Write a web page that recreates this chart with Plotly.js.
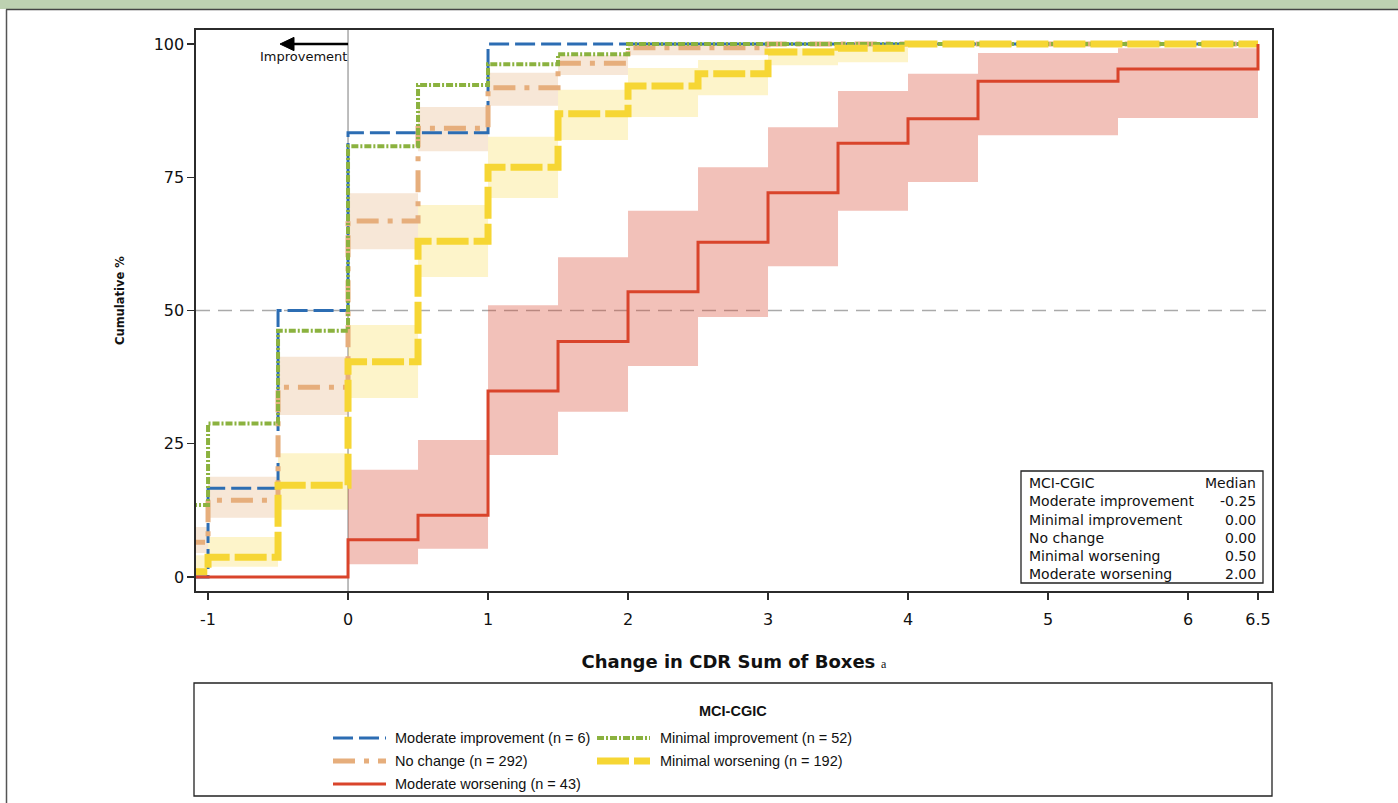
<!DOCTYPE html>
<html>
<head>
<meta charset="utf-8">
<script src="https://cdn.plot.ly/plotly-3.0.1.min.js"></script>
<style>
  html, body { margin: 0; padding: 0; background: #ffffff; }
  #chart { width: 1398px; height: 803px; }
</style>
</head>
<body>
<div id="chart"></div>
<script>
// ---------------- DATA ----------------
// Step functions (cumulative %), value holds from x[i] until x[i+1]
const modImpX = [-1.5, -1, -0.5, 0, 1, 6.5];
const modImpY = [0, 16.67, 50, 83.33, 100, 100];

const minImpX = [-1.5, -1, -0.5, 0, 0.5, 1, 1.5, 2, 6.5];
const minImpY = [13.5, 28.8, 46.2, 80.8, 92.3, 96.2, 98.1, 100, 100];

const noChgX = [-1.5, -1, -0.5, 0, 0.5, 1, 1.5, 2, 3, 6.5];
const noChgY = [6.5, 14.4, 35.6, 66.8, 84.2, 91.8, 96.4, 99.3, 100, 100];
const noChgBandX = [-1.5, -1, -0.5, 0, 0.5, 1, 1.5, 2, 3];
const noChgLow = [4.5, 11.1, 30.4, 61.5, 79.9, 88.4, 94.2, 97.9, 97.9];
const noChgHigh = [9.4, 18.8, 41.3, 72.0, 88.2, 94.6, 97.9, 100, 100];

const minWorX = [-1.5, -1, -0.5, 0, 0.5, 1, 1.5, 2, 2.5, 3, 3.5, 4, 6.5];
const minWorY = [1.0, 3.7, 17.2, 40.4, 63.0, 76.9, 86.9, 92.1, 94.4, 98.5, 99.2, 100, 100];
const minWorBandX = [-1.5, -1, -0.5, 0, 0.5, 1, 1.5, 2, 2.5, 3, 3.5, 4];
const minWorLow = [0.1, 1.9, 12.6, 33.6, 56.3, 71.1, 82.0, 86.3, 90.4, 96.0, 96.6, 96.6];
const minWorHigh = [4.1, 7.5, 23.2, 47.3, 69.8, 82.6, 91.4, 95.5, 97.0, 99.2, 99.8, 99.8];

const modWorX = [-1.5, 0, 0.5, 1, 1.5, 2, 2.5, 3, 3.5, 4, 4.5, 5.5, 6.5];
const modWorY = [0, 7.0, 11.6, 34.9, 44.2, 53.5, 62.8, 72.1, 81.4, 86.0, 93.0, 95.3, 100];
const modWorBandX = [0, 0.5, 1, 1.5, 2, 2.5, 3, 3.5, 4, 4.5, 5.5, 6.5];
const modWorLow = [2.4, 5.3, 22.9, 31.0, 39.6, 48.8, 58.3, 68.7, 74.1, 82.9, 86.1, 86.1];
const modWorHigh = [20.1, 25.7, 51.0, 60.0, 68.7, 76.9, 84.4, 91.2, 94.4, 98.3, 99.2, 99.2];

// Labels
const seriesNames = ['Moderate improvement (n = 6)', 'Minimal improvement (n = 52)', 'No change (n = 292)',
                     'Minimal worsening (n = 192)', 'Moderate worsening (n = 43)'];
const xTickVals = [-1, 0, 1, 2, 3, 4, 5, 6, 6.5];
const xTickText = ['-1', '0', '1', '2', '3', '4', '5', '6', '6.5'];
const yTickVals = [0, 25, 50, 75, 100];
const yTickText = ['0', '25', '50', '75', '100'];
const tableHeader = ['MCI-CGIC', 'Median'];
const tableGroups = ['Moderate improvement', 'Minimal improvement', 'No change', 'Minimal worsening', 'Moderate worsening'];
const tableMedians = ['-0.25', '0.00', '0.00', '0.50', '2.00'];
const legendTitle = 'MCI-CGIC';
const xTitle = 'Change in CDR Sum of Boxes';
const xTitleNote = 'a';
const yTitle = 'Cumulative %';
const arrowLabel = 'Improvement';
const arrowFrom = 0, arrowTo = -0.486, arrowLevel = 100;

// ---------------- STYLES ----------------
const C = {
  blue: '#2C6DB3', green: '#8BB23F', orange: '#E6AE7C', yellow: '#F6D634', red: '#D9442B'
};
const lineStyles = {
  modImp: { color: C.blue, width: 3, dash: '20px,6px' },
  minImp: { color: C.green, width: 4, dash: '7px,2px,2px,2px' },
  noChg:  { color: C.orange, width: 5, dash: '22px,9px,5px,9px' },
  minWor: { color: C.yellow, width: 7, dash: '32px,5px' },
  modWor: { color: C.red, width: 3, dash: 'solid' }
};

// plot geometry in pixels
const W = 1398, H = 803;
const M = { l: 196, r: 126, t: 30, b: 212 };
const PW = W - M.l - M.r, PH = H - M.t - M.b;
const px = v => (v - M.l) / PW;
const py = v => (H - M.b - v) / PH;

function band(x, lo, hi, fill) {
  return [
    { x: x, y: lo, mode: 'lines', line: { shape: 'hv', width: 0 }, hoverinfo: 'skip', showlegend: false },
    { x: x, y: hi, mode: 'lines', line: { shape: 'hv', width: 0 }, fill: 'tonexty', fillcolor: fill, hoverinfo: 'skip', showlegend: false }
  ];
}
function step(x, y, name, st) {
  return { x: x, y: y, name: name, mode: 'lines', line: Object.assign({ shape: 'hv' }, st), showlegend: false };
}

const traces = [
  ...band(noChgBandX, noChgLow, noChgHigh, 'rgba(230,174,124,0.30)'),
  ...band(minWorBandX, minWorLow, minWorHigh, 'rgba(246,214,52,0.26)'),
  ...band(modWorBandX, modWorLow, modWorHigh, 'rgba(217,68,43,0.33)'),
  step(modImpX, modImpY, seriesNames[0], lineStyles.modImp),
  step(noChgX, noChgY, seriesNames[2], lineStyles.noChg),
  step(minImpX, minImpY, seriesNames[1], lineStyles.minImp),
  step(minWorX, minWorY, seriesNames[3], lineStyles.minWor),
  step(modWorX, modWorY, seriesNames[4], lineStyles.modWor)
];

const shapes = [
  // page decoration
  { type: 'rect', xref: 'paper', yref: 'paper', x0: px(0), x1: px(W), y0: py(0), y1: py(9), fillcolor: '#BDD1B1', line: { width: 0 }, layer: 'below' },
  { type: 'line', xref: 'paper', yref: 'paper', x0: px(6), x1: px(W), y0: py(9.5), y1: py(9.5), line: { color: '#444', width: 1.5 } },
  { type: 'line', xref: 'paper', yref: 'paper', x0: px(6.5), x1: px(6.5), y0: py(9.5), y1: py(H), line: { color: '#555', width: 1.5 } },
  // reference lines
  { type: 'line', xref: 'x', yref: 'paper', x0: 0, x1: 0, y0: 0, y1: 1, line: { color: '#A8A8A8', width: 1.5 }, layer: 'below' },
  { type: 'line', xref: 'paper', yref: 'y', x0: 0, x1: 1, y0: 50, y1: 50, line: { color: '#AAAAAA', width: 1.5, dash: '14px,8px' }, layer: 'below' },
  // improvement arrow (shaft + head)
  { type: 'line', xref: 'x', yref: 'y', x0: arrowFrom, x1: arrowTo + 0.08, y0: arrowLevel, y1: arrowLevel, line: { color: '#000', width: 2.6 } },
  { type: 'path', xref: 'x', yref: 'y',
    path: `M ${arrowTo} ${arrowLevel} L ${arrowTo + 0.1} ${arrowLevel + 1.25} L ${arrowTo + 0.1} ${arrowLevel - 1.25} Z`,
    fillcolor: '#000', line: { color: '#000', width: 1 } },
  // inset table box
  { type: 'rect', xref: 'paper', yref: 'paper', x0: px(1021), x1: px(1263), y0: py(471), y1: py(583), line: { color: '#222', width: 1.3 }, fillcolor: 'rgba(255,255,255,0)' },
  // legend box
  { type: 'rect', xref: 'paper', yref: 'paper', x0: px(194), x1: px(1272), y0: py(683), y1: py(796), line: { color: '#222', width: 1.3 }, fillcolor: 'rgba(255,255,255,0)' }
];

const annotations = [
  { x: 0.01, y: py(57), xref: 'x', yref: 'paper', text: arrowLabel, showarrow: false, xanchor: 'right', yanchor: 'middle',
    font: { family: 'DejaVu Sans, Verdana, sans-serif', size: 13, color: '#111' } },
  { x: 0.5, y: py(120), xref: 'paper', yref: 'paper', text: '', showarrow: false, visible: false }
];
annotations.pop();

// y-axis title drawn as annotation for exact placement
annotations.push({ x: px(120), y: py(301), xref: 'paper', yref: 'paper', text: '<b>' + yTitle + '</b>', textangle: -90, showarrow: false,
  xanchor: 'center', yanchor: 'middle', font: { family: 'DejaVu Sans, Verdana, sans-serif', size: 11.5, color: '#111' } });

// inset table
const tblFont = { family: 'DejaVu Sans, Verdana, sans-serif', size: 14, color: '#111' };
const rowY = [483, 501, 519.5, 537.5, 556, 574];
annotations.push({ x: px(1027), y: py(rowY[0]), xref: 'paper', yref: 'paper', text: tableHeader[0], showarrow: false, xanchor: 'left', yanchor: 'middle', font: tblFont });
annotations.push({ x: px(1258), y: py(rowY[0]), xref: 'paper', yref: 'paper', text: tableHeader[1], showarrow: false, xanchor: 'right', yanchor: 'middle', font: tblFont });
tableGroups.forEach((g, i) => {
  annotations.push({ x: px(1027), y: py(rowY[i + 1]), xref: 'paper', yref: 'paper', text: g, showarrow: false, xanchor: 'left', yanchor: 'middle', font: tblFont });
  annotations.push({ x: px(1258), y: py(rowY[i + 1]), xref: 'paper', yref: 'paper', text: tableMedians[i], showarrow: false, xanchor: 'right', yanchor: 'middle', font: tblFont });
});

// legend (drawn manually for the two-column layout)
const legFont = { family: 'Liberation Sans, Arial, sans-serif', size: 14.5, color: '#111' };
annotations.push({ x: px(733), y: py(711), xref: 'paper', yref: 'paper', text: '<b>' + legendTitle + '</b>', showarrow: false,
  xanchor: 'center', yanchor: 'middle', font: legFont });
const legOrder = [
  { name: seriesNames[0], st: lineStyles.modImp, col: 0, row: 0 },
  { name: seriesNames[1], st: lineStyles.minImp, col: 1, row: 0 },
  { name: seriesNames[2], st: lineStyles.noChg, col: 0, row: 1 },
  { name: seriesNames[3], st: lineStyles.minWor, col: 1, row: 1 },
  { name: seriesNames[4], st: lineStyles.modWor, col: 0, row: 2 }
];
const colSample = [[333, 386], [597, 650]];
const colText = [393, 658];
const legRowY = [738, 761, 784];
legOrder.forEach(it => {
  shapes.push({ type: 'line', xref: 'paper', yref: 'paper', x0: px(colSample[it.col][0]), x1: px(colSample[it.col][1]),
    y0: py(legRowY[it.row]), y1: py(legRowY[it.row]), line: { color: it.st.color, width: it.st.width, dash: it.st.dash } });
  annotations.push({ x: px(colText[it.col]), y: py(legRowY[it.row]), xref: 'paper', yref: 'paper', text: it.name, showarrow: false,
    xanchor: 'left', yanchor: 'middle', font: legFont });
});

const axisCommon = {
  showline: true, mirror: true, linecolor: '#2b2b2b', linewidth: 1.6,
  ticks: 'outside', ticklen: 7, tickwidth: 1.4, tickcolor: '#2b2b2b',
  showgrid: false, zeroline: false,
  tickfont: { family: 'DejaVu Sans, Verdana, sans-serif', size: 16, color: '#111' }
};

const layout = {
  width: W, height: H,
  margin: M,
  paper_bgcolor: '#ffffff', plot_bgcolor: '#ffffff',
  showlegend: false,
  xaxis: Object.assign({}, axisCommon, {
    range: [-1.086, 6.6], tickvals: xTickVals, ticktext: xTickText, ticklabelstandoff: 6,
    title: { text: '<b>' + xTitle + '</b> <span style="font-family:Liberation Serif;font-size:12px">' + xTitleNote + '</span>', standoff: 27,
      font: { family: 'DejaVu Sans, Verdana, sans-serif', size: 18, color: '#111' } }
  }),
  yaxis: Object.assign({}, axisCommon, {
    range: [-2.63, 102.63], tickvals: yTickVals, ticktext: yTickText
  }),
  shapes: shapes,
  annotations: annotations
};

Plotly.newPlot('chart', traces, layout, { displayModeBar: false, staticPlot: true });
</script>
</body>
</html>
